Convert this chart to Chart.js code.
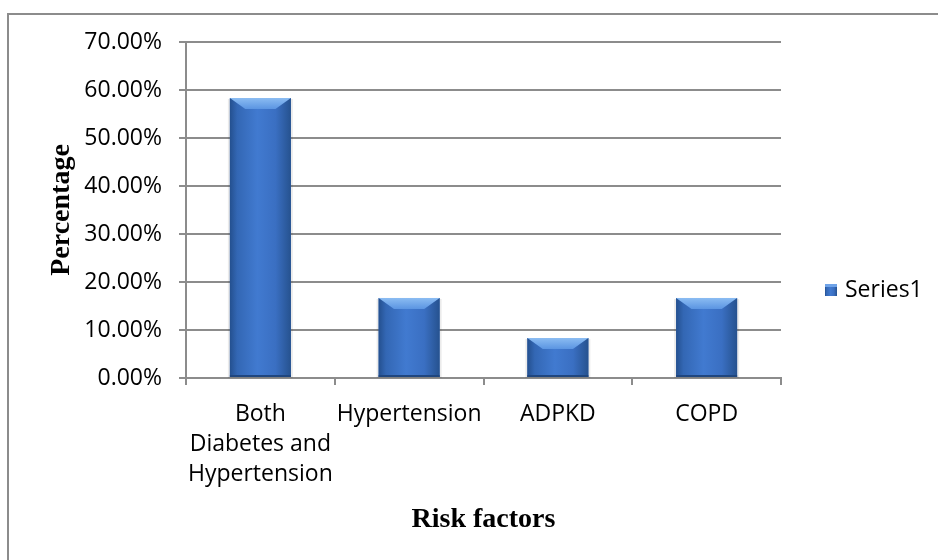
<!DOCTYPE html>
<html>
<head>
<meta charset="utf-8">
<title>Risk factors</title>
<script src="https://cdn.jsdelivr.net/npm/chart.js@4.4.1/dist/chart.umd.min.js"></script>
<style>
    body { margin: 0; background: #ffffff; }
    #wrap { position: relative; width: 938px; height: 560px; overflow: hidden; }
    #frame {
        position: absolute; left: 7px; top: 13px; width: 1000px; height: 1000px;
        border-left: 2px solid #8c8c8c; border-top: 2px solid #8c8c8c;
    }
    #riskChart { position: absolute; left: 0; top: 0; }
</style>
</head>
<body>
<div id="wrap">
    <div id="frame"></div>
    <canvas id="riskChart" width="938" height="560"></canvas>
</div>
<script>
// Chart data
const categories = [['Both', 'Diabetes and', 'Hypertension'], 'Hypertension', 'ADPKD', 'COPD'];
const seriesLabel = 'Series1';
const seriesValues = [58.33, 16.67, 8.33, 16.67];
const yMin = 0;
const yMax = 70;
const yStep = 10;

const gridColor = '#8c8c8c';
const tickFont = { family: '"Open Sans", "Liberation Sans", sans-serif', size: 23 };
const titleFont = { family: '"Liberation Serif", "Times New Roman", serif', size: 28, weight: 'bold' };

function barGradient(ctx, left, right) {
    const g = ctx.createLinearGradient(left, 0, right, 0);
    g.addColorStop(0, '#24508f');
    g.addColorStop(0.12, '#3367b4');
    g.addColorStop(0.45, '#417ad0');
    g.addColorStop(0.75, '#3a6fc2');
    g.addColorStop(1, '#26528f');
    return g;
}

// Shaded bars with a light bevel at the top, drawn over the library's bars
const bevelBars = {
    id: 'bevelBars',
    afterDatasetsDraw(chart) {
        const ctx = chart.ctx;
        const meta = chart.getDatasetMeta(0);
        meta.data.forEach((bar) => {
            const { x, y, base, width } = bar.getProps(['x', 'y', 'base', 'width'], true);
            const left = x - width / 2;
            const right = x + width / 2;
            const bevel = Math.min(11, (base - y) / 3);
            ctx.save();
            // soft shadow
            ctx.fillStyle = 'rgba(0,0,0,0.08)';
            ctx.fillRect(left - 2, y + 1, width + 4, base - y);
            ctx.fillStyle = barGradient(ctx, left, right);
            ctx.fillRect(left, y, width, base - y);
            // bevel on top
            const tg = ctx.createLinearGradient(0, y, 0, y + bevel);
            tg.addColorStop(0, '#8bbcf2');
            tg.addColorStop(1, '#5b95e2');
            ctx.fillStyle = tg;
            ctx.beginPath();
            ctx.moveTo(left, y);
            ctx.lineTo(right, y);
            ctx.lineTo(right - bevel * 1.4, y + bevel);
            ctx.lineTo(left + bevel * 1.4, y + bevel);
            ctx.closePath();
            ctx.fill();
            // darker bottom edge
            ctx.fillStyle = '#1f467f';
            ctx.fillRect(left, base - 2, width, 2);
            ctx.restore();
        });
    }
};

// Legend on the right side
const sideLegend = {
    id: 'sideLegend',
    afterDraw(chart) {
        const ctx = chart.ctx;
        const area = chart.chartArea;
        const boxX = area.right + 44;
        const midY = chart.height / 2 + 10;
        ctx.save();
        ctx.fillStyle = barGradient(ctx, boxX, boxX + 12);
        ctx.fillRect(boxX, midY - 6, 12, 12);
        ctx.fillStyle = '#6fa3e8';
        ctx.fillRect(boxX, midY - 6, 12, 3);
        ctx.fillStyle = '#000000';
        ctx.font = tickFont.size + 'px ' + tickFont.family;
        ctx.textBaseline = 'middle';
        ctx.textAlign = 'left';
        ctx.fillText(chart.data.datasets[0].label, boxX + 20, midY);
        ctx.restore();
    }
};

new Chart(document.getElementById('riskChart'), {
    type: 'bar',
    data: {
        labels: categories,
        datasets: [{
            label: seriesLabel,
            data: seriesValues,
            backgroundColor: '#3a70c3',
            borderWidth: 0,
            categoryPercentage: 1,
            barPercentage: 0.41
        }]
    },
    options: {
        responsive: false,
        animation: false,
        devicePixelRatio: 1,
        layout: {
            padding: { left: 0, top: 42, right: 157, bottom: 0 }
        },
        scales: {
            x: {
                afterFit: (scale) => { scale.height = 182; },
                grid: {
                    display: true,
                    drawOnChartArea: false,
                    drawTicks: true,
                    tickLength: 7,
                    color: gridColor,
                    lineWidth: 2,
                    offset: true
                },
                border: { display: true, color: gridColor, width: 2 },
                ticks: {
                    color: '#000000',
                    font: Object.assign({ lineHeight: 1.31 }, tickFont),
                    padding: 14,
                    maxRotation: 0,
                    autoSkip: false
                },
                title: {
                    display: true,
                    text: 'Risk factors',
                    color: '#000000',
                    font: titleFont,
                    padding: { top: 0, bottom: 23 }
                }
            },
            y: {
                min: yMin,
                max: yMax,
                afterFit: (scale) => { scale.width = 186; },
                grid: {
                    color: gridColor,
                    lineWidth: 2,
                    tickLength: 7
                },
                border: { display: true, color: gridColor, width: 2 },
                ticks: {
                    stepSize: yStep,
                    color: '#000000',
                    font: tickFont,
                    padding: 17,
                    callback: (value) => value.toFixed(2) + '%'
                },
                title: {
                    display: true,
                    text: 'Percentage',
                    color: '#000000',
                    font: titleFont,
                    padding: { top: 45, bottom: 0 }
                }
            }
        },
        plugins: {
            legend: { display: false },
            tooltip: { enabled: false }
        }
    },
    plugins: [bevelBars, sideLegend]
});
</script>
</body>
</html>
